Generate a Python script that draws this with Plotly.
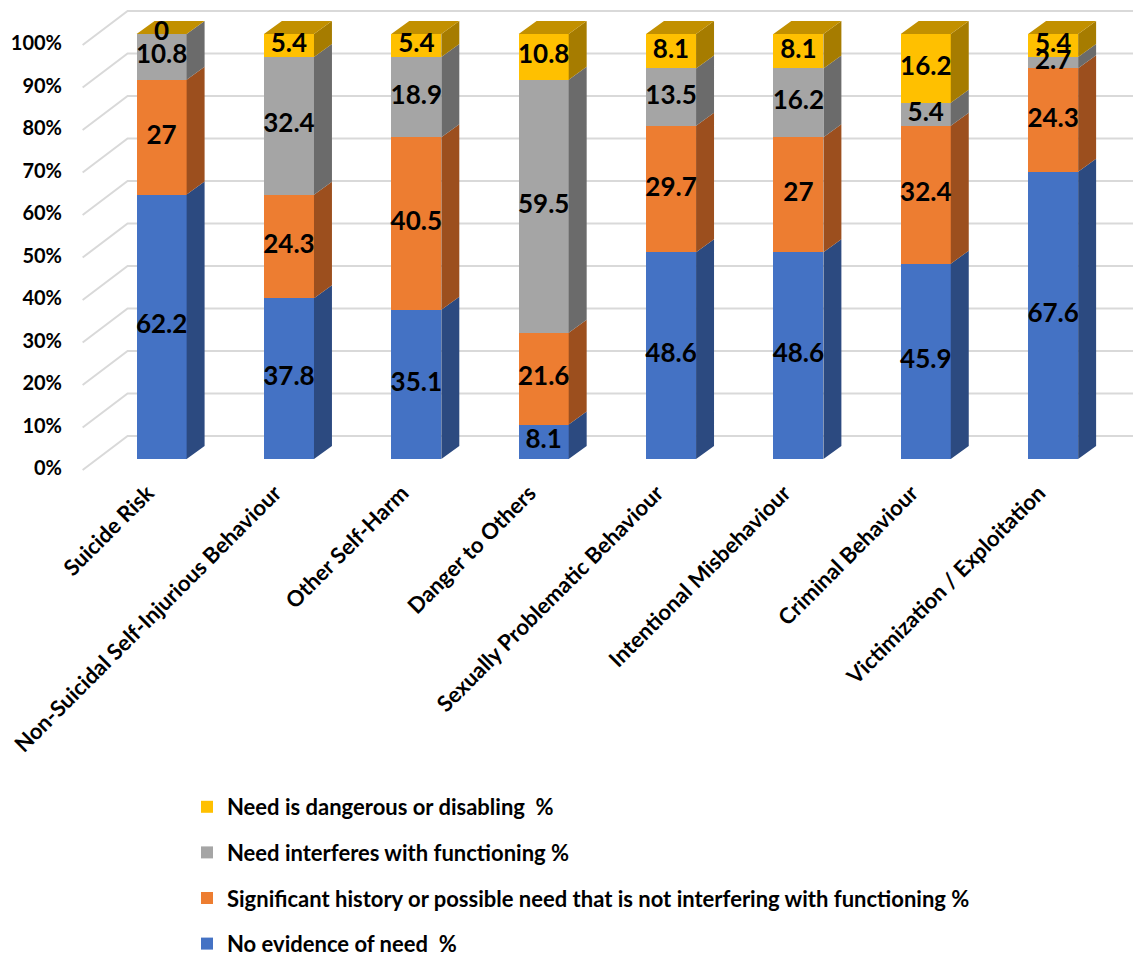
import plotly.graph_objects as go

categories = ["Suicide Risk", "Non-Suicidal Self-Injurious Behaviour", "Other Self-Harm",
              "Danger to Others", "Sexually Problematic Behaviour", "Intentional Misbehaviour",
              "Criminal Behaviour", "Victimization / Exploitation"]
no_evidence = [62.2, 37.8, 35.1, 8.1, 48.6, 48.6, 45.9, 67.6]
significant = [27, 24.3, 40.5, 21.6, 29.7, 27, 32.4, 24.3]
interferes = [10.8, 32.4, 18.9, 59.5, 13.5, 16.2, 5.4, 2.7]
dangerous = [0, 5.4, 5.4, 10.8, 8.1, 8.1, 16.2, 5.4]
y_ticks = [0, 10, 20, 30, 40, 50, 60, 70, 80, 90, 100]

series = [
    ("No evidence of need  %", no_evidence, "#4472C4", "#2C4A80", 4),
    ("Significant history or possible need that is not interfering with functioning %", significant, "#ED7D31", "#9C4F1E", 3),
    ("Need interferes with functioning %", interferes, "#A5A5A5", "#6B6B6B", 2),
    ("Need is dangerous or disabling  %", dangerous, "#FFC000", "#A67C00", 1),
]
TOP_COLOR = "#C29000"

FONT = "Lato"
BAR_W = 0.393
DX = 0.141   # depth offset in x (category units)
DY = 3.06    # depth offset in y (percent units)

W, H = 1133, 953  # page has an 8px body margin

x = list(range(len(categories)))
totals = [sum(s[1][i] for s in series) for i in x]

fig = go.Figure()

# front faces
for name, vals, col, _, rank in series:
    fig.add_trace(go.Bar(
        x=x, y=vals, name=name, marker=dict(color=col, line=dict(width=0)),
        width=BAR_W, legendgroup=name, legendrank=rank, hoverinfo="skip",
    ))

# side faces (computed from normalised stacked data)
cum = [0.0] * len(x)
label_x, label_y, label_t = [], [], []
for name, vals, col, side, _ in series:
    px_, py_ = [], []
    for i in x:
        v = vals[i] / totals[i] * 100
        y0, y1 = cum[i], cum[i] + v
        xr = i + BAR_W / 2
        if v > 0:
            px_ += [xr, xr + DX, xr + DX, xr, xr, None]
            py_ += [y0, y0 + DY, y1 + DY, y1, y0, None]
        label_x.append(i)
        label_y.append((y0 + y1) / 2)
        label_t.append(f"{vals[i]:g}")
        cum[i] = y1
    fig.add_trace(go.Scatter(x=px_, y=py_, mode="lines", fill="toself", fillcolor=side,
                             line=dict(width=0, color=side), showlegend=False, hoverinfo="skip"))

# top faces
tx, ty = [], []
for i in x:
    xl, xr = i - BAR_W / 2, i + BAR_W / 2
    top = cum[i]
    tx += [xl, xr, xr + DX, xl + DX, xl, None]
    ty += [top, top, top + DY, top + DY, top, None]
fig.add_trace(go.Scatter(x=tx, y=ty, mode="lines", fill="toself", fillcolor=TOP_COLOR,
                         line=dict(width=0, color=TOP_COLOR), showlegend=False, hoverinfo="skip"))

# data labels
fig.add_trace(go.Scatter(x=label_x, y=label_y, text=label_t, mode="text",
                         textfont=dict(family=FONT, size=26, color="black", weight="bold"),
                         textposition="middle center", showlegend=False, hoverinfo="skip"))

# 3D wall gridlines
X_FRONT, X_WALL, X_END = -0.62, -0.267, 7.69
FRONT_OFF, BACK_OFF = -2.6, 5.4
for t in y_ticks:
    fig.add_shape(type="path", xref="x", yref="y", layer="below",
                  path=f"M {X_FRONT},{t + FRONT_OFF} L {X_WALL},{t + BACK_OFF} L {X_END},{t + BACK_OFF}",
                  line=dict(color="#D9D9D9", width=2))

fig.update_layout(
    width=W, height=H,
    margin=dict(l=67, r=0, t=0, b=486, autoexpand=False),
    paper_bgcolor="white", plot_bgcolor="white",
    barmode="stack", barnorm="percent",
    font=dict(family=FONT, color="black"),
    showlegend=True,
    legend=dict(
        xref="container", yref="container", x=179 / W, y=1 - 778 / H,
        xanchor="left", yanchor="top", traceorder="grouped", tracegroupgap=14,
        font=dict(family=FONT, size=22, color="black", weight="bold"),
        itemwidth=30,
    ),
    xaxis=dict(
        range=[-0.68, 7.69], tickmode="array", tickvals=[i - 0.11 for i in x], ticktext=categories,
        tickangle=-45, showgrid=False, zeroline=False, showline=False, ticks="",
        tickfont=dict(family=FONT, size=22, color="black", weight="bold"), automargin=False,
        ticklabeloverflow="allow",
    ),
    yaxis=dict(
        range=[-3.76, 106.1], tickmode="array", tickvals=[t - 2.2 for t in y_ticks],
        ticktext=[f"{t}%" for t in y_ticks], showgrid=False, zeroline=False, showline=False,
        ticks="", tickfont=dict(family=FONT, size=20, color="black", weight="bold"),
        automargin=False, ticklabelstandoff=12, ticklabeloverflow="allow",
    ),
)

fig.write_html("out.html")
